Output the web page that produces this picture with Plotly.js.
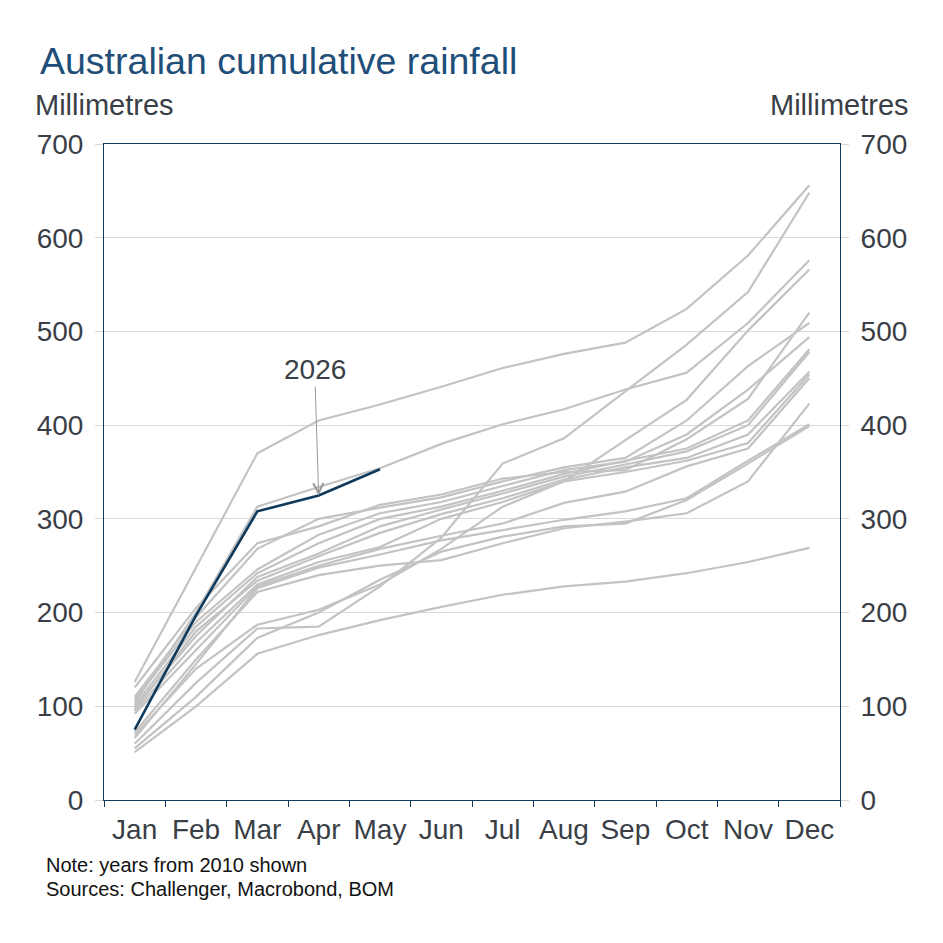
<!DOCTYPE html>
<html>
<head>
<meta charset="utf-8">
<script src="https://cdn.plot.ly/plotly-3.0.1.min.js"></script>
<style>
  html, body { margin: 0; padding: 0; background: #fff; }
  #chart { width: 943px; height: 943px; }
</style>
</head>
<body>
<div id="chart"></div>
<script>
// Month categories on the x axis
const months = ['Jan', 'Feb', 'Mar', 'Apr', 'May', 'Jun', 'Jul', 'Aug', 'Sep', 'Oct', 'Nov', 'Dec'];

// Cumulative rainfall (mm) at each month for past years
const rainA = [126, 248, 370, 405, 422, 441, 461, 476, 488, 524, 581, 656];
const rainB = [60, 125, 183, 185, 228, 280, 359, 386, 436, 486, 542, 648];
const rainC = [104, 200, 313, 334, 354, 380, 401, 417, 438, 456, 509, 576];
const rainD = [69, 140, 187, 203, 230, 268, 313, 340, 384, 427, 501, 566];
const rainE = [120, 205, 274, 292, 315, 326, 343, 350, 352, 385, 428, 520];
const rainF = [110, 195, 268, 300, 312, 323, 340, 355, 365, 405, 463, 509];
const rainG = [107, 190, 246, 283, 306, 318, 335, 352, 361, 390, 438, 494];
const rainH = [101, 185, 242, 274, 300, 313, 330, 348, 362, 375, 405, 481];
const rainI = [99, 175, 238, 263, 292, 310, 327, 345, 358, 372, 400, 478];
const rainJ = [97, 180, 234, 260, 285, 305, 322, 342, 355, 365, 390, 457];
const rainK = [95, 168, 230, 254, 270, 300, 318, 340, 350, 362, 381, 454];
const rainL = [92, 160, 228, 250, 268, 282, 295, 317, 329, 356, 375, 450];
const rainM = [72, 150, 222, 240, 250, 256, 274, 290, 297, 306, 340, 423];
const rainN = [66, 145, 226, 248, 262, 277, 288, 299, 308, 322, 362, 401];
const rainO = [55, 110, 173, 200, 235, 265, 281, 292, 295, 320, 359, 399];
const rainP = [51, 100, 156, 176, 192, 206, 219, 228, 233, 242, 254, 269];

// Current year to date
const rain2026 = [75, 197, 308, 325, 353];

const pastYears = [rainA, rainB, rainC, rainD, rainE, rainF, rainG, rainH,
                   rainI, rainJ, rainK, rainL, rainM, rainN, rainO, rainP];

// Axis ticks (mm)
const yTicks = [0, 100, 200, 300, 400, 500, 600, 700];

const navy = '#0f3a5c';
const textGrey = '#3a3f47';
const gridGrey = '#d9d9d9';

const traces = pastYears.map(vals => ({
  x: months.slice(0, vals.length),
  y: vals,
  type: 'scatter',
  mode: 'lines',
  line: { color: '#c3c3c3', width: 2.2 },
  hoverinfo: 'skip',
  showlegend: false
}));

traces.push({
  x: months.slice(0, rain2026.length),
  y: rain2026,
  type: 'scatter',
  mode: 'lines',
  line: { color: navy, width: 2.6 },
  showlegend: false
});

// Right-hand axis carrier
traces.push({
  x: [months[0]],
  y: [null],
  yaxis: 'y2',
  type: 'scatter',
  mode: 'lines',
  hoverinfo: 'skip',
  showlegend: false
});

const font = { family: 'Arial, "Liberation Sans", sans-serif', color: textGrey };

const layout = {
  width: 943,
  height: 943,
  paper_bgcolor: '#ffffff',
  plot_bgcolor: '#ffffff',
  margin: { l: 104, r: 103, t: 144, b: 143, pad: 0 },
  font: font,
  showlegend: false,
  title: {
    text: 'Australian cumulative rainfall',
    font: { family: font.family, size: 37.5, color: '#1f4e79' },
    xref: 'container', yref: 'container',
    x: 40 / 943, xanchor: 'left',
    y: 1 - 61 / 943, yanchor: 'middle'
  },
  xaxis: {
    type: 'category',
    categoryorder: 'array',
    categoryarray: months,
    range: [-0.5, 11.5],
    tickson: 'boundaries',
    tickangle: 0,
    ticks: 'outside',
    ticklen: 6,
    tickwidth: 1,
    tickcolor: navy,
    ticklabelstandoff: 4,
    showline: true,
    linecolor: navy,
    linewidth: 1,
    mirror: true,
    showgrid: false,
    zeroline: false,
    tickfont: { size: 28, color: textGrey },
    fixedrange: true
  },
  yaxis: {
    range: [0, 700],
    tickvals: yTicks,
    ticks: 'outside',
    ticklen: 8,
    tickcolor: gridGrey,
    ticklabelstandoff: 6,
    showline: true,
    linecolor: navy,
    linewidth: 1,
    mirror: true,
    showgrid: true,
    gridcolor: gridGrey,
    gridwidth: 1,
    zeroline: false,
    tickfont: { size: 28, color: textGrey },
    fixedrange: true
  },
  yaxis2: {
    overlaying: 'y',
    side: 'right',
    range: [0, 700],
    tickvals: yTicks,
    ticks: 'outside',
    ticklen: 8,
    tickcolor: gridGrey,
    ticklabelstandoff: 6,
    showline: false,
    showgrid: false,
    zeroline: false,
    tickfont: { size: 28, color: textGrey },
    fixedrange: true
  },
  annotations: [
    {
      text: 'Millimetres', xref: 'paper', yref: 'paper',
      x: (33 - 104) / 736, xanchor: 'left',
      y: (800 - 105) / 656, yanchor: 'middle',
      showarrow: false, font: { size: 29, color: textGrey }
    },
    {
      text: 'Millimetres', xref: 'paper', yref: 'paper',
      x: (911 - 104) / 736, xanchor: 'right',
      y: (800 - 105) / 656, yanchor: 'middle',
      showarrow: false, font: { size: 29, color: textGrey }
    },
    {
      text: '2026', x: 'Apr', y: rain2026[3], xref: 'x', yref: 'y',
      ax: -4, ay: -126,
      showarrow: true, arrowhead: 5, arrowsize: 2, arrowwidth: 1,
      arrowcolor: '#9a9a9a', standoff: 0,
      font: { size: 28, color: textGrey }
    },
    {
      text: 'Note: years from 2010 shown', xref: 'paper', yref: 'paper',
      x: (44 - 104) / 736, xanchor: 'left',
      y: (800 - 865) / 656, yanchor: 'middle',
      showarrow: false, font: { size: 20, color: '#111111' }
    },
    {
      text: 'Sources: Challenger, Macrobond, BOM', xref: 'paper', yref: 'paper',
      x: (44 - 104) / 736, xanchor: 'left',
      y: (800 - 889) / 656, yanchor: 'middle',
      showarrow: false, font: { size: 20, color: '#111111' }
    }
  ]
};

Plotly.newPlot('chart', traces, layout, { displayModeBar: false, staticPlot: true });
</script>
</body>
</html>
